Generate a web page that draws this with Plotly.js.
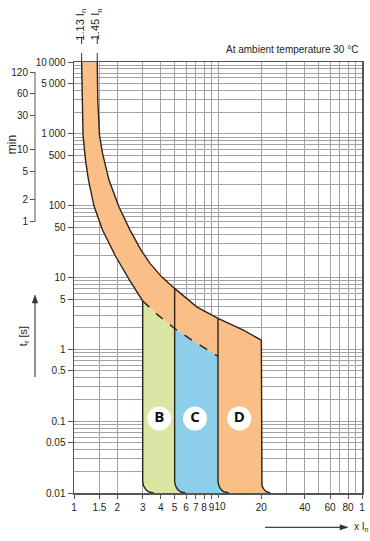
<!DOCTYPE html>
<html>
<head>
<meta charset="utf-8">
<script src="https://cdn.plot.ly/plotly-3.0.1.min.js"></script>
<style>
  html, body { margin: 0; padding: 0; background: #fff; }
  #chart { width: 370px; height: 541px; }
</style>
</head>
<body>
<div id="chart"></div>
<script>
// ---------- tick labels ----------
const xTickVals = [1, 1.5, 2, 3, 4, 5, 6, 7, 8, 9, 20, 40, 60, 80, 100];
const xTickText = ['1', '1.5', '2', '3', '4', '5', '6', '7', '8', '9', '20', '40', '60', '80', '1'];
const xTenVals = [10];
const xTenText = ['10'];
const xMinorVals = [10, 30, 50, 70, 90];
const yTickVals = [0.01, 0.05, 0.1, 0.5, 1, 5, 10, 50, 100, 500, 1000, 5000, 10000];
const yTickText = ['0.01', '0.05', '0.1', '0.5', '1', '5', '10', '50', '100', '500', '1\u2009000', '5\u2009000', '10\u2009000'];
const minTickSec = [60, 120, 300, 600, 1800, 3600, 7200];
const minTickText = ['1', '2', '5', '10', '30', '60', '120'];

// ---------- curves (x in multiples of In, t in seconds) ----------
// lower thermal limit (solid part, down to x = 3)
const leftCurveX = [1.13, 1.137, 1.155, 1.202, 1.261, 1.377, 1.577, 1.94, 2.43, 3.0];
const leftCurveT = [10000, 2958, 962, 431, 227, 98.7, 45.7, 19.9, 9.2, 4.7];
// upper thermal limit (down to x = 20)
const rightCurveX = [1.45, 1.463, 1.503, 1.577, 1.75, 2.05, 2.45, 2.92, 3.37, 4.06, 5.0, 7.11, 10.0, 15.0, 20.0];
const rightCurveT = [10000, 2958, 962, 540, 227, 96.5, 45.7, 24.1, 15.7, 10.2, 7.05, 3.91, 2.69, 1.85, 1.34];
// dashed continuation of the lower limit
const dashX = [3.0, 3.85, 5.0, 7.05, 10.0];
const dashT = [4.7, 2.97, 1.95, 1.23, 0.80];
// rounded feet at the bottom of the magnetic trip limits
const cornerT = [0.0146, 0.0126, 0.0113, 0.0104, 0.01];
const bCornerX = [3.0, 3.04, 3.14, 3.29, 3.58];
const cCornerX = [5.0, 5.07, 5.23, 5.48, 5.95];
const dLeftCornerX = [10.0, 10.13, 10.47, 10.96, 11.9];
const dRightCornerX = [20.0, 20.2, 20.8, 21.7, 23.1];
const cTopT = 7.05;   // where the x=5 line meets the upper limit
const dTopT = 2.69;   // where the x=10 line meets the upper limit

// ---------- curve-type labels ----------
const typeLabels = ['B', 'C', 'D'];
const typeLabelX = [3.91, 6.92, 14.06];
const typeLabelT = [0.109, 0.109, 0.109];

const ORANGE = '#F9BF87';
const GREEN = '#DCE6A3';
const BLUE = '#8DCEEB';
const EDGE = '#2e241c';
const FONT = 'Liberation Sans, Arial, sans-serif';

function rev(a) { return a.slice().reverse(); }

const orangeX = [].concat(leftCurveX, dashX.slice(1), dLeftCornerX, rev(dRightCornerX), rev(rightCurveX));
const orangeT = [].concat(leftCurveT, dashT.slice(1), cornerT, rev(cornerT), rev(rightCurveT));
const iC = dashX.indexOf(5.0);
const greenX = [].concat(dashX.slice(0, iC + 1), cCornerX, rev(bCornerX));
const greenT = [].concat(dashT.slice(0, iC + 1), cornerT, rev(cornerT));
const blueX = [].concat(dashX.slice(iC), dLeftCornerX, rev(cCornerX));
const blueT = [].concat(dashT.slice(iC), cornerT, rev(cornerT));

const fillTrace = (x, y, c) => ({
  x: x, y: y, type: 'scatter', mode: 'lines', fill: 'toself', fillcolor: c,
  line: { width: 0, color: c }, hoverinfo: 'skip', showlegend: false
});
const edgeTrace = (x, y, dash, w) => ({
  x: x, y: y, type: 'scatter', mode: 'lines',
  line: { color: EDGE, width: w || 1.4, dash: dash || 'solid' }, hoverinfo: 'skip', showlegend: false
});

const traces = [
  fillTrace(orangeX, orangeT, ORANGE),
  fillTrace(greenX, greenT, GREEN),
  fillTrace(blueX, blueT, BLUE),
  edgeTrace([].concat(leftCurveX, bCornerX), [].concat(leftCurveT, cornerT)),
  edgeTrace([].concat(rightCurveX, dRightCornerX), [].concat(rightCurveT, cornerT)),
  edgeTrace([5.0].concat(cCornerX), [cTopT].concat(cornerT)),
  edgeTrace([10.0].concat(dLeftCornerX), [dTopT].concat(cornerT)),
  edgeTrace(dashX, dashT, 'dash', 1.5),
  {
    x: typeLabelX, y: typeLabelT, type: 'scatter', mode: 'markers+text',
    text: typeLabels, textposition: 'middle center',
    marker: { size: 24, color: '#ffffff', line: { width: 0 } },
    textfont: { family: 'Open Sans, DejaVu Sans, sans-serif', size: 15, color: '#111', weight: 'bold' },
    hoverinfo: 'skip', showlegend: false
  },
  { x: [1], y: [60], xaxis: 'x2', yaxis: 'y2', type: 'scatter', mode: 'markers',
    marker: { opacity: 0 }, hoverinfo: 'skip', showlegend: false }
];

const yMinorVals = [];
[0.01, 0.1, 1, 10, 100, 1000].forEach(d => { for (let k = 2; k <= 9; k++) yMinorVals.push(+(k * d).toPrecision(3)); });
const GRID = '#a3a3a3';
const AXIS = '#555555';
const TXT = '#231f20';

const plotLeftPx = 74, marginL = 35, marginR = 8, W = 370;
const domainStart = (plotLeftPx - marginL) / (W - marginL - marginR);

const layout = {
  width: 370, height: 541,
  margin: { l: marginL, r: marginR, t: 62, b: 48 },
  paper_bgcolor: '#ffffff', plot_bgcolor: '#ffffff',
  font: { family: FONT, size: 10, color: TXT },
  showlegend: false,
  xaxis: {
    type: 'log', range: [0, 2], domain: [domainStart, 1], anchor: 'y',
    tickmode: 'array', tickvals: xTickVals, ticktext: xTickText, tickangle: 0,
    ticks: 'outside', ticklen: 4, tickwidth: 1, tickcolor: AXIS,
    showgrid: true, gridcolor: GRID, gridwidth: 1,
    minor: { tickvals: xMinorVals, showgrid: true, gridcolor: GRID, gridwidth: 1, ticks: '' },
    showline: true, linecolor: AXIS, linewidth: 1.5, mirror: true, zeroline: false,
    tickfont: { family: FONT, size: 10, color: TXT }, fixedrange: true
  },
  xaxis2: {
    type: 'log', range: [0, 2], overlaying: 'x', anchor: 'y', side: 'bottom',
    tickmode: 'array', tickvals: xTenVals, ticktext: xTenText, tickangle: 0, ticklabelshift: 2,
    ticks: 'outside', ticklen: 4, tickwidth: 1, tickcolor: AXIS,
    showgrid: false, showline: false, zeroline: false,
    tickfont: { family: FONT, size: 10, color: TXT }, fixedrange: true
  },
  yaxis: {
    type: 'log', range: [-2, 4], anchor: 'x',
    tickmode: 'array', tickvals: yTickVals, ticktext: yTickText,
    ticks: 'outside', ticklen: 5, tickwidth: 1, tickcolor: AXIS,
    showgrid: true, gridcolor: GRID, gridwidth: 1,
    minor: { tickvals: yMinorVals, showgrid: true, gridcolor: GRID, gridwidth: 1, ticks: '' },
    showline: true, linecolor: AXIS, linewidth: 1.5, mirror: true, zeroline: false,
    tickfont: { family: FONT, size: 10, color: TXT }, fixedrange: true
  },
  yaxis2: {
    type: 'log', range: [-2, 4], overlaying: 'y', anchor: 'free', position: 0, side: 'left',
    tickmode: 'array', tickvals: minTickSec, ticktext: minTickText,
    ticks: 'outside', ticklen: 5, tickwidth: 1, tickcolor: AXIS,
    showgrid: false, showline: false, zeroline: false,
    tickfont: { family: FONT, size: 10, color: TXT }, fixedrange: true
  },
  shapes: [
    { type: 'line', xref: 'paper', yref: 'y2', x0: 0, x1: 0, y0: 60, y1: 7200,
      line: { color: AXIS, width: 1 } },
    { type: 'line', xref: 'x', yref: 'paper', x0: 1.13, x1: 1.13, y0: 1, y1: 1.058,
      line: { color: '#333', width: 1, dash: 'dash' } },
    { type: 'line', xref: 'x', yref: 'paper', x0: 1.45, x1: 1.45, y0: 1, y1: 1.058,
      line: { color: '#333', width: 1, dash: 'dash' } },
    { type: 'line', xref: 'paper', yref: 'paper', x0: 0, x1: 0, y0: 0.2691, y1: 0.444,
      line: { color: '#444', width: 1.2 } },
    { type: 'path', xref: 'paper', yref: 'paper',
      path: 'M -0.0085 0.4408 L 0 0.4594 L 0.0085 0.4408 Z',
      fillcolor: '#333', line: { color: '#333', width: 0.5 } },
    { type: 'line', xref: 'paper', yref: 'paper', x0: 0.7034, x1: 0.936, y0: -0.0796, y1: -0.0796,
      line: { color: '#444', width: 1.2 } },
    { type: 'path', xref: 'paper', yref: 'paper',
      path: 'M 0.9327 -0.0735 L 0.9572 -0.0796 L 0.9327 -0.0857 Z',
      fillcolor: '#333', line: { color: '#333', width: 0.5 } }
  ],
  annotations: [
    { xref: 'x', yref: 'paper', x: Math.log10(1.13), y: 1.087, xshift: -1.5, textangle: -90,
      xanchor: 'center', yanchor: 'middle',
      text: '1.13 I<sub>n</sub>', showarrow: false, font: { family: FONT, size: 11, color: TXT } },
    { xref: 'x', yref: 'paper', x: Math.log10(1.45), y: 1.087, xshift: -1.5, textangle: -90,
      xanchor: 'center', yanchor: 'middle',
      text: '1.45 I<sub>n</sub>', showarrow: false, font: { family: FONT, size: 11, color: TXT } },
    { xref: 'paper', yref: 'paper', x: 0.9939, y: 1.030, xanchor: 'right', yanchor: 'middle',
      text: 'At ambient temperature 30 °C', showarrow: false, font: { family: FONT, size: 10, color: TXT } },
    { xref: 'paper', yref: 'paper', x: -0.0703, y: 0.807, textangle: -90, xanchor: 'center', yanchor: 'middle',
      text: 'min', showarrow: false, font: { family: FONT, size: 12, color: TXT } },
    { xref: 'paper', yref: 'paper', x: -0.0336, y: 0.364, textangle: -90, xanchor: 'center', yanchor: 'middle',
      text: 't<sub>r</sub> [s]', showarrow: false, font: { family: FONT, size: 11, color: TXT } },
    { xref: 'paper', yref: 'paper', x: 0.9694, y: -0.0796, xanchor: 'left', yanchor: 'middle',
      text: 'x I<sub>n</sub>', showarrow: false, font: { family: FONT, size: 10, color: TXT } }
  ]
};

Plotly.newPlot('chart', traces, layout, { staticPlot: true, displayModeBar: false });
</script>
</body>
</html>
